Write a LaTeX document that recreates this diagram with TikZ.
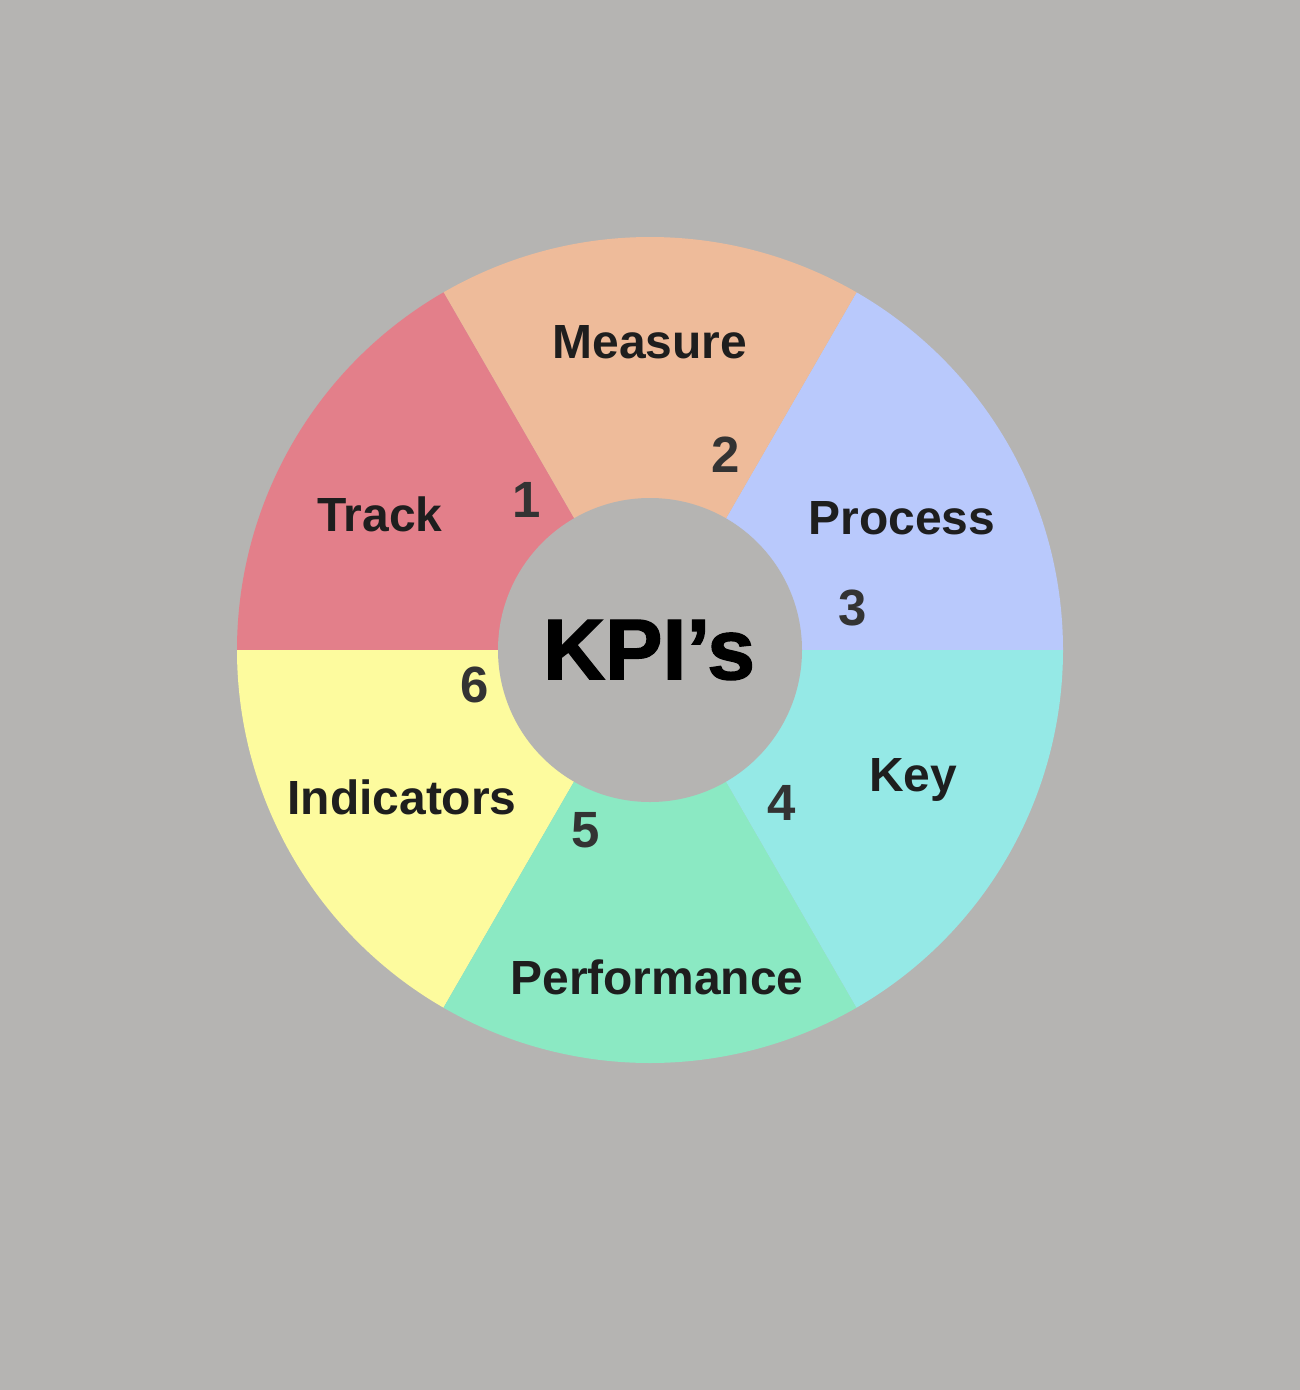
\documentclass[tikz,border=0pt]{standalone}
\usepackage{fontspec}
\setmainfont{Liberation Sans}
\newfontfamily\kpifont{Liberation Sans Bold}[FakeBold=1.6]
\definecolor{bg}{HTML}{B5B4B2}
\definecolor{cMeasure}{HTML}{EEBB9A}
\definecolor{cTrack}{HTML}{E37F8A}
\definecolor{cProcess}{HTML}{B9C9FC}
\definecolor{cKey}{HTML}{95E9E6}
\definecolor{cPerf}{HTML}{8BE9C3}
\definecolor{cInd}{HTML}{FDFB9E}
\definecolor{lbl}{HTML}{1E1E1E}
\definecolor{num}{HTML}{333333}
\begin{document}
\begin{tikzpicture}[x=0.02cm,y=-0.02cm,
  lab/.style={font=\fontsize{27.3}{30}\selectfont\bfseries,text=lbl,inner sep=0pt},
  numlab/.style={font=\fontsize{29}{32}\selectfont\bfseries,text=num,inner sep=0pt}]
\fill[bg] (0,0) rectangle (1300,1390);
\useasboundingbox (0,0) rectangle (1300,1390);
\coordinate (c) at (650,650);
\fill[cProcess] (c) -- ++(0:413) arc[start angle=0,end angle=-60,radius=413] -- cycle;
\fill[cMeasure] (c) -- ++(-60:413) arc[start angle=-60,end angle=-120,radius=413] -- cycle;
\fill[cTrack] (c) -- ++(-120:413) arc[start angle=-120,end angle=-180,radius=413] -- cycle;
\fill[cInd] (c) -- ++(-180:413) arc[start angle=-180,end angle=-240,radius=413] -- cycle;
\fill[cPerf] (c) -- ++(-240:413) arc[start angle=-240,end angle=-300,radius=413] -- cycle;
\fill[cKey] (c) -- ++(-300:413) arc[start angle=-300,end angle=-360,radius=413] -- cycle;
\fill[bg] (c) circle[radius=152];
\node[font=\kpifont\fontsize{49}{52}\selectfont,text=black,inner sep=0pt] (kpi) at (649,650) {KPI’s};
\node[lab] (measure) at (650,342) {Measure};
\node[lab] (track) at (380,514) {Track};
\node[lab] (process) at (902,518) {Process};
\node[lab] (key) at (913,780) {Key};
\node[lab] (ind) at (402,797) {Indicators};
\node[lab] (perf) at (657,977) {Performance};
\node[numlab] (n1) at (527,500) {1};
\node[numlab] (n2) at (726,455) {2};
\node[numlab] (n3) at (853,608) {3};
\node[numlab] (n4) at (782,803) {4};
\node[numlab] (n5) at (586,830) {5};
\node[numlab] (n6) at (475,685) {6};
\end{tikzpicture}
\end{document}
